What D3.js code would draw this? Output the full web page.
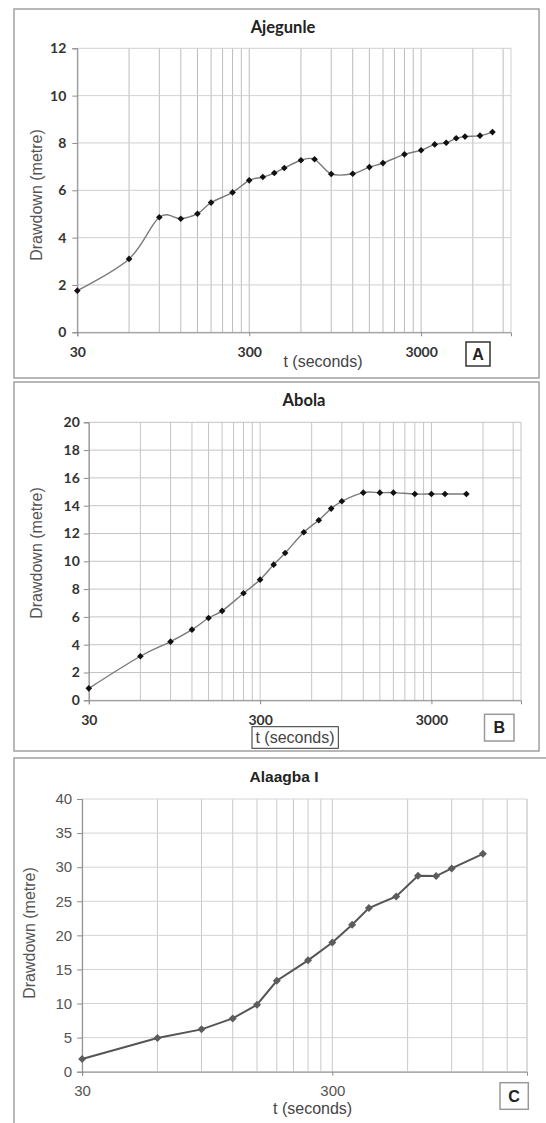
<!DOCTYPE html>
<html lang="en">
<head>
<meta charset="utf-8">
<title>Drawdown vs time</title>
<script src="https://d3js.org/d3.v7.min.js"></script>
<style>
  body { margin: 0; background: #fff; }
  svg { display: block; }
</style>
</head>
<body>
<div id="chart"></div>
<script>
// ---- data ----
var titles = ["Ajegunle", "Abola", "Alaagba I"];
var letters = ["A", "B", "C"];

var tA = [30, 60, 90, 120, 150, 180, 240, 300, 360, 420, 480, 600, 720, 900, 1200, 1500, 1800, 2400, 3000, 3600, 4200, 4800, 5400, 6600, 7800];
var sA = [1.76, 3.10, 4.86, 4.80, 5.01, 5.48, 5.91, 6.42, 6.56, 6.73, 6.94, 7.27, 7.31, 6.69, 6.70, 6.98, 7.15, 7.52, 7.69, 7.94, 8.01, 8.20, 8.27, 8.31, 8.46];

var tB = [30, 60, 90, 120, 150, 180, 240, 300, 360, 420, 540, 660, 780, 900, 1200, 1500, 1800, 2400, 3000, 3600, 4800];
var sB = [0.86, 3.17, 4.22, 5.08, 5.92, 6.43, 7.70, 8.68, 9.76, 10.60, 12.09, 12.95, 13.79, 14.32, 14.94, 14.94, 14.94, 14.84, 14.84, 14.84, 14.84];

var tC = [30, 60, 90, 120, 150, 180, 240, 300, 360, 420, 540, 660, 780, 900, 1200];
var sC = [1.86, 4.94, 6.21, 7.82, 9.82, 13.34, 16.33, 18.96, 21.55, 24.0, 25.7, 28.74, 28.69, 29.81, 31.96];

var xTicksAB = [30, 300, 3000];
var xTicksC = [30, 300];
var yTicksA = [0, 2, 4, 6, 8, 10, 12];
var yTicksB = [0, 2, 4, 6, 8, 10, 12, 14, 16, 18, 20];
var yTicksC = [0, 5, 10, 15, 20, 25, 30, 35, 40];

var W = 546, H = 1123;
var svg = d3.select("#chart").append("svg").attr("width", W).attr("height", H);

// panel settings (layout only)
var panels = [
  { t: tA, s: sA, xt: xTicksAB, yt: yTicksA, xmax: 10000,
    frame: [14, 9, 525, 369], plot: [77.3, 511, 48.3, 332.3],
    titleXY: [283, 33], ytXY: [36.5, 195], xtXY: [323, 367],
    box: [466, 342, 24, 24], boxStroke: "#333",
    tickFont: "bold 14px Lato, 'Open Sans', sans-serif", tickColor: "#333",
    titleFont: "bold 16.5px Lato, 'Open Sans', sans-serif",
    lineColor: "#7a7a7a", lineW: 1.4, mk: "#111", mkSize: 22, smooth: true,
    yPad: 6, xPad: 11, vgrid: "#bcbcbc", hgrid: "#d0d0d0" },
  { t: tB, s: sB, xt: xTicksAB, yt: yTicksB, xmax: 10000,
    frame: [14, 382, 525, 369], plot: [88.8, 521, 422.3, 700.3],
    titleXY: [304, 406], ytXY: [36, 553], xtXY: [295, 743],
    box: [484.5, 714.3, 29.5, 26.7], boxStroke: "#999",
    tBox: [252, 726.7, 86.3, 21.6],
    tickFont: "bold 14px Lato, 'Open Sans', sans-serif", tickColor: "#333",
    titleFont: "bold 16.5px Lato, 'Open Sans', sans-serif",
    lineColor: "#7a7a7a", lineW: 1.4, mk: "#111", mkSize: 22, smooth: true,
    yPad: 4, xPad: 11, vgrid: "#c4c4c4", hgrid: "#c4c4c4" },
  { t: tC, s: sC, xt: xTicksC, yt: yTicksC, xmax: 1800,
    frame: [14, 758, 560, 400], plot: [82.1, 527, 799, 1071.7],
    titleXY: [284, 782], ytXY: [29.6, 933], xtXY: [312.6, 1114],
    box: [500, 1082.7, 28.3, 26.6], boxStroke: "#999",
    tickFont: "15px 'Liberation Sans', Arial, sans-serif", tickColor: "#555",
    titleFont: "bold 15.5px 'Liberation Sans', Arial, sans-serif",
    lineColor: "#555", lineW: 2, mk: "#5c5c5c", mkSize: 32, smooth: false,
    yPad: 5, xPad: 10, vgrid: "#c8c8c8", hgrid: "#d4d4d4" }
];

panels.forEach(function(p, i) {
  var g = svg.append("g");

  // outer frame
  g.append("rect")
    .attr("x", p.frame[0]).attr("y", p.frame[1])
    .attr("width", p.frame[2]).attr("height", p.frame[3])
    .attr("fill", "none").attr("stroke", "#a0a0a0").attr("stroke-width", 1.5);

  var x = d3.scaleLog().base(10).domain([30, p.xmax]).range([p.plot[0], p.plot[1]]);
  var y = d3.scaleLinear().domain([0, d3.max(p.yt)]).range([p.plot[3], p.plot[2]]);

  // vertical gridlines at multiples of 30 within each decade
  var vlines = [];
  [30, 300, 3000].forEach(function(d) {
    for (var k = 1; k <= 9; k++) {
      if (d * k <= p.xmax + 1e-6) vlines.push(d * k);
    }
  });
  g.selectAll("line.vg").data(vlines).enter().append("line")
    .attr("class", "vg")
    .attr("x1", function(d) { return x(d); }).attr("x2", function(d) { return x(d); })
    .attr("y1", p.plot[2]).attr("y2", p.plot[3])
    .attr("stroke", p.vgrid).attr("stroke-width", 1);

  g.selectAll("line.hg").data(p.yt).enter().append("line")
    .attr("class", "hg")
    .attr("x1", p.plot[0]).attr("x2", p.plot[1])
    .attr("y1", function(d) { return y(d); }).attr("y2", function(d) { return y(d); })
    .attr("stroke", p.hgrid).attr("stroke-width", 1);

  // right plot edge
  g.append("line")
    .attr("x1", p.plot[1]).attr("x2", p.plot[1])
    .attr("y1", p.plot[2]).attr("y2", p.plot[3])
    .attr("stroke", p.hgrid);

  // axes
  var yAxis = d3.axisLeft(y).tickValues(p.yt).tickSize(5).tickPadding(p.yPad);
  var ya = g.append("g").attr("transform", "translate(" + p.plot[0] + ",0)").call(yAxis);
  var xAxis = d3.axisBottom(x).tickValues(p.xt).tickFormat(d3.format("d")).tickSize(4).tickPadding(p.xPad);
  var xa = g.append("g").attr("transform", "translate(0," + p.plot[3] + ")").call(xAxis);

  [ya, xa].forEach(function(a) {
    a.select(".domain").attr("stroke", "#8c8c8c");
    a.selectAll(".tick line").attr("stroke", "#8c8c8c");
    a.selectAll(".tick text").style("font", p.tickFont).attr("fill", p.tickColor);
  });

  // series line
  var line = d3.line()
    .x(function(d, j) { return x(p.t[j]); })
    .y(function(d) { return y(d); })
    .curve(p.smooth ? d3.curveCardinal.tension(0) : d3.curveLinear);

  g.append("path")
    .datum(p.s)
    .attr("d", line)
    .attr("fill", "none")
    .attr("stroke", p.lineColor)
    .attr("stroke-width", p.lineW);

  // diamond markers
  g.selectAll("path.mk").data(p.s).enter().append("path")
    .attr("class", "mk")
    .attr("d", d3.symbol().type(d3.symbolSquare).size(p.mkSize))
    .attr("transform", function(d, j) {
      return "translate(" + x(p.t[j]) + "," + y(d) + ") rotate(45)";
    })
    .attr("fill", p.mk);

  // title
  g.append("text")
    .attr("x", p.titleXY[0]).attr("y", p.titleXY[1])
    .attr("text-anchor", "middle")
    .style("font", p.titleFont).attr("fill", "#222")
    .text(titles[i]);

  // axis titles
  g.append("text")
    .attr("transform", "translate(" + p.ytXY[0] + "," + p.ytXY[1] + ") rotate(-90)")
    .attr("text-anchor", "middle").attr("dy", "0.35em")
    .style("font", "16px 'Liberation Sans', Arial, sans-serif").attr("fill", "#555")
    .text(i === 2 ? "Drawdown  (metre)" : "Drawdown (metre)");

  g.append("text")
    .attr("x", p.xtXY[0]).attr("y", p.xtXY[1])
    .attr("text-anchor", "middle")
    .style("font", "16px 'Liberation Sans', Arial, sans-serif").attr("fill", "#444")
    .text("t (seconds)");

  if (p.tBox) {
    g.append("rect")
      .attr("x", p.tBox[0]).attr("y", p.tBox[1])
      .attr("width", p.tBox[2]).attr("height", p.tBox[3])
      .attr("fill", "none").attr("stroke", "#333").attr("stroke-width", 1);
  }

  // panel letter box
  g.append("rect")
    .attr("x", p.box[0]).attr("y", p.box[1])
    .attr("width", p.box[2]).attr("height", p.box[3])
    .attr("fill", "#fff").attr("stroke", p.boxStroke).attr("stroke-width", 1.5);
  g.append("text")
    .attr("x", p.box[0] + p.box[2] / 2).attr("y", p.box[1] + p.box[3] / 2)
    .attr("dy", "0.36em").attr("text-anchor", "middle")
    .style("font", "bold 16px 'Liberation Sans', Arial, sans-serif").attr("fill", "#222")
    .text(letters[i]);
});
</script>
</body>
</html>
